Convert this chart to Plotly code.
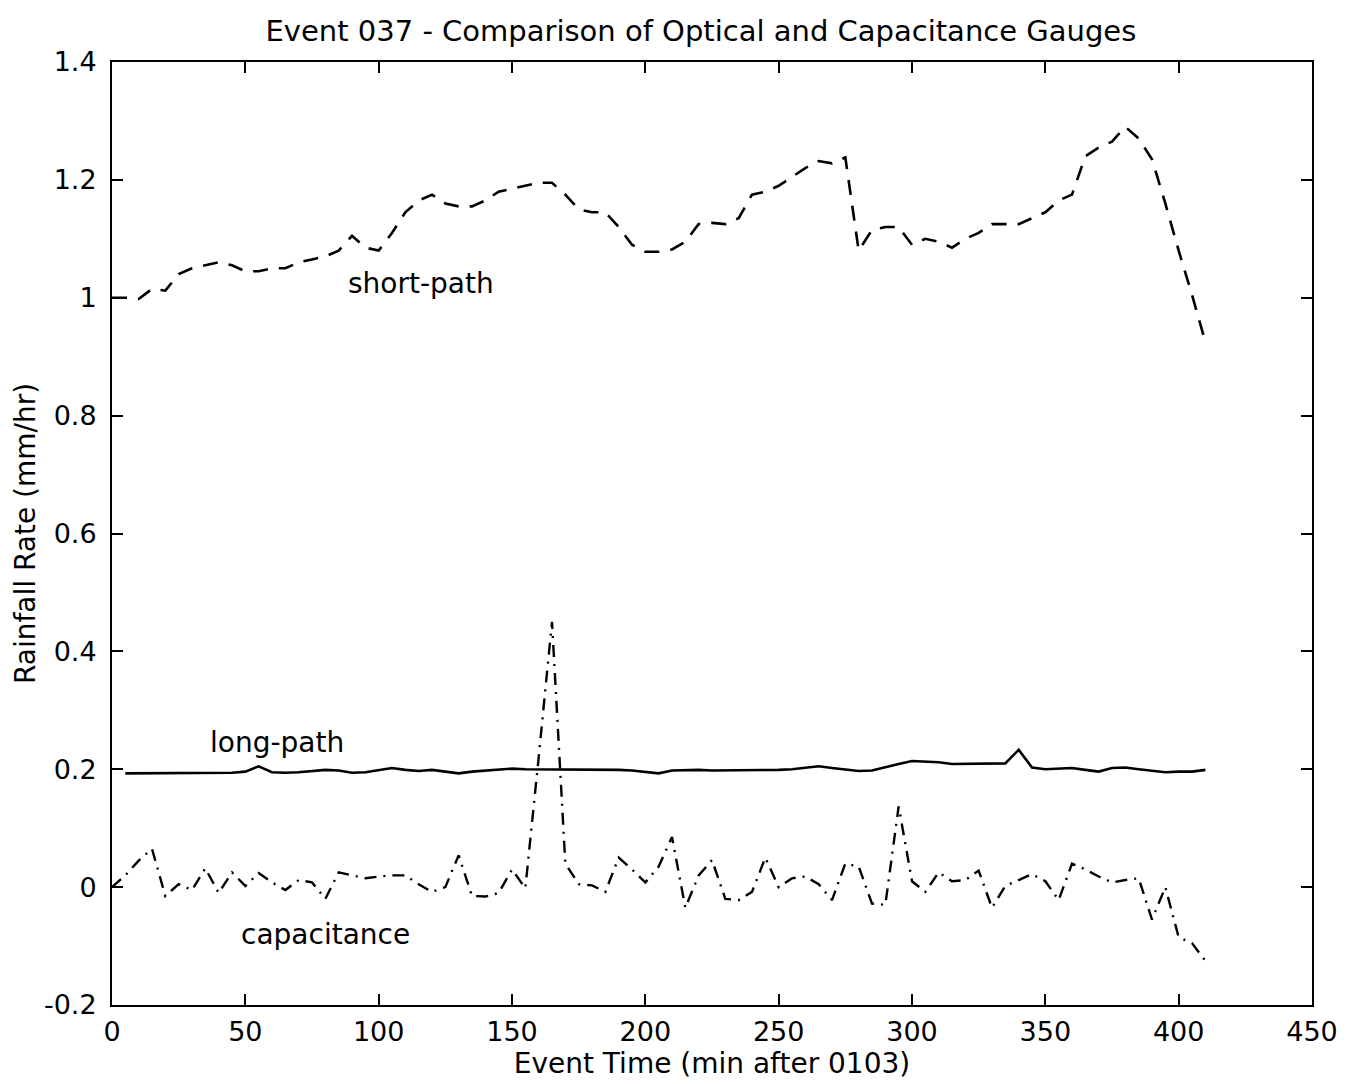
import plotly.graph_objects as go

# event time, minutes after 0103
time_min = list(range(0, 415, 5))
time_long = list(range(5, 415, 5))

short_path = [
    1.0, 1.0, 0.998, 1.015, 1.012, 1.04, 1.05, 1.055, 1.06, 1.055,
    1.045, 1.045, 1.05, 1.05, 1.06, 1.065, 1.07, 1.08, 1.105, 1.085,
    1.08, 1.11, 1.145, 1.165, 1.175, 1.16, 1.155, 1.155, 1.165, 1.18,
    1.185, 1.19, 1.195, 1.195, 1.175, 1.15, 1.145, 1.145, 1.12, 1.09,
    1.078, 1.078, 1.082, 1.095, 1.125, 1.127, 1.125, 1.135, 1.175, 1.18,
    1.19, 1.205, 1.22, 1.232, 1.228, 1.238, 1.08, 1.115, 1.12, 1.12,
    1.09, 1.1, 1.095, 1.085, 1.1, 1.11, 1.125, 1.125, 1.125, 1.135,
    1.145, 1.165, 1.175, 1.24, 1.255, 1.265, 1.29, 1.27, 1.235, 1.16,
    1.08, 1.005, 0.925,
]

long_path = [
    0.193, 0.193, 0.193, 0.193, 0.193, 0.193, 0.193, 0.193, 0.194, 0.196,
    0.205, 0.195, 0.194, 0.195, 0.197, 0.199, 0.198, 0.194, 0.195, 0.198,
    0.202, 0.199, 0.197, 0.199, 0.196, 0.193, 0.196, 0.198, 0.2, 0.201,
    0.2, 0.2, 0.2, 0.2, 0.199, 0.199, 0.199, 0.199, 0.198, 0.196,
    0.193, 0.198, 0.199, 0.199, 0.198, 0.198, 0.198, 0.198, 0.198, 0.199,
    0.2, 0.203, 0.205, 0.202, 0.199, 0.197, 0.198, 0.204, 0.209, 0.214,
    0.213, 0.212, 0.209, 0.209, 0.209, 0.209, 0.21, 0.233, 0.203, 0.2,
    0.201, 0.202, 0.199, 0.196, 0.202, 0.203, 0.2, 0.197, 0.195, 0.196,
    0.196, 0.199,
]

capacitance = [
    0.0, 0.02, 0.045, 0.065, -0.015, 0.005, -0.005, 0.032, -0.01, 0.025,
    0.002, 0.024, 0.008, -0.005, 0.012, 0.008, -0.02, 0.025, 0.02, 0.015,
    0.018, 0.02, 0.02, 0.005, -0.008, 0.0, 0.054, -0.015, -0.016, -0.01,
    0.03, -0.002, 0.22, 0.45, 0.04, 0.005, 0.003, -0.008, 0.05, 0.03,
    0.008, 0.035, 0.085, -0.035, 0.02, 0.046, -0.02, -0.022, -0.008, 0.05,
    0.0, 0.015, 0.018, 0.005, -0.022, 0.04, 0.035, -0.028, -0.03, 0.137,
    0.01, -0.008, 0.025, 0.01, 0.012, 0.028, -0.035, 0.002, 0.012, 0.022,
    0.01, -0.022, 0.04, 0.03, 0.018, 0.008, 0.012, 0.015, -0.055, 0.0,
    -0.085, -0.095, -0.125,
]

x_ticks = [0, 50, 100, 150, 200, 250, 300, 350, 400, 450]
y_ticks = [-0.2, 0, 0.2, 0.4, 0.6, 0.8, 1.0, 1.2, 1.4]
y_tick_text = ["-0.2", "0", "0.2", "0.4", "0.6", "0.8", "1", "1.2", "1.4"]

labels = [("short-path", 116, 1.025), ("long-path", 62, 0.245), ("capacitance", 80, -0.08)]

font = "DejaVu Sans, Arial, sans-serif"

fig = go.Figure()
fig.add_trace(go.Scatter(x=time_min, y=short_path, mode="lines", name="short-path",
                         line=dict(color="black", width=2.6, dash="15px,11px")))
fig.add_trace(go.Scatter(x=time_long, y=long_path, mode="lines", name="long-path",
                         line=dict(color="black", width=2.6)))
fig.add_trace(go.Scatter(x=time_min, y=capacitance, mode="lines", name="capacitance",
                         line=dict(color="black", width=2.4, dash="12px,7px,2px,7px")))

for text, lx, ly in labels:
    fig.add_annotation(x=lx, y=ly, text=text, showarrow=False,
                       font=dict(size=28, color="black", family=font))

# page body has an 8px margin, so the plot box is shifted up/left by that much
fig.update_layout(
    width=1356, height=1084,
    margin=dict(l=104, r=52, t=54, b=87, autoexpand=False),
    paper_bgcolor="white", plot_bgcolor="white",
    showlegend=False,
    font=dict(family=font, color="black", size=27),
    title=dict(text="Event 037 - Comparison of Optical and Capacitance Gauges",
               x=0.511, xanchor="center", y=0.988, yanchor="top",
               font=dict(size=29, family=font)),
)
fig.update_xaxes(range=[0, 450], tickvals=x_ticks, ticks="inside", ticklen=11,
                 tickwidth=1.5, tickcolor="black", showline=True, linecolor="black",
                 linewidth=2, mirror="ticks", showgrid=False, zeroline=False,
                 automargin=False, tickfont=dict(size=27), ticklabelstandoff=2,
                 title=dict(text="Event Time (min after 0103)", font=dict(size=28), standoff=0))
fig.update_yaxes(range=[-0.2, 1.4], tickvals=y_ticks, ticktext=y_tick_text, ticks="inside",
                 ticklen=11, tickwidth=1.5, tickcolor="black", showline=True,
                 linecolor="black", linewidth=2, mirror="ticks", showgrid=False,
                 zeroline=False, automargin=False, tickfont=dict(size=27),
                 ticklabelstandoff=8,
                 title=dict(text="Rainfall Rate (mm/hr)", font=dict(size=28), standoff=0))

fig.write_html("out.html")
